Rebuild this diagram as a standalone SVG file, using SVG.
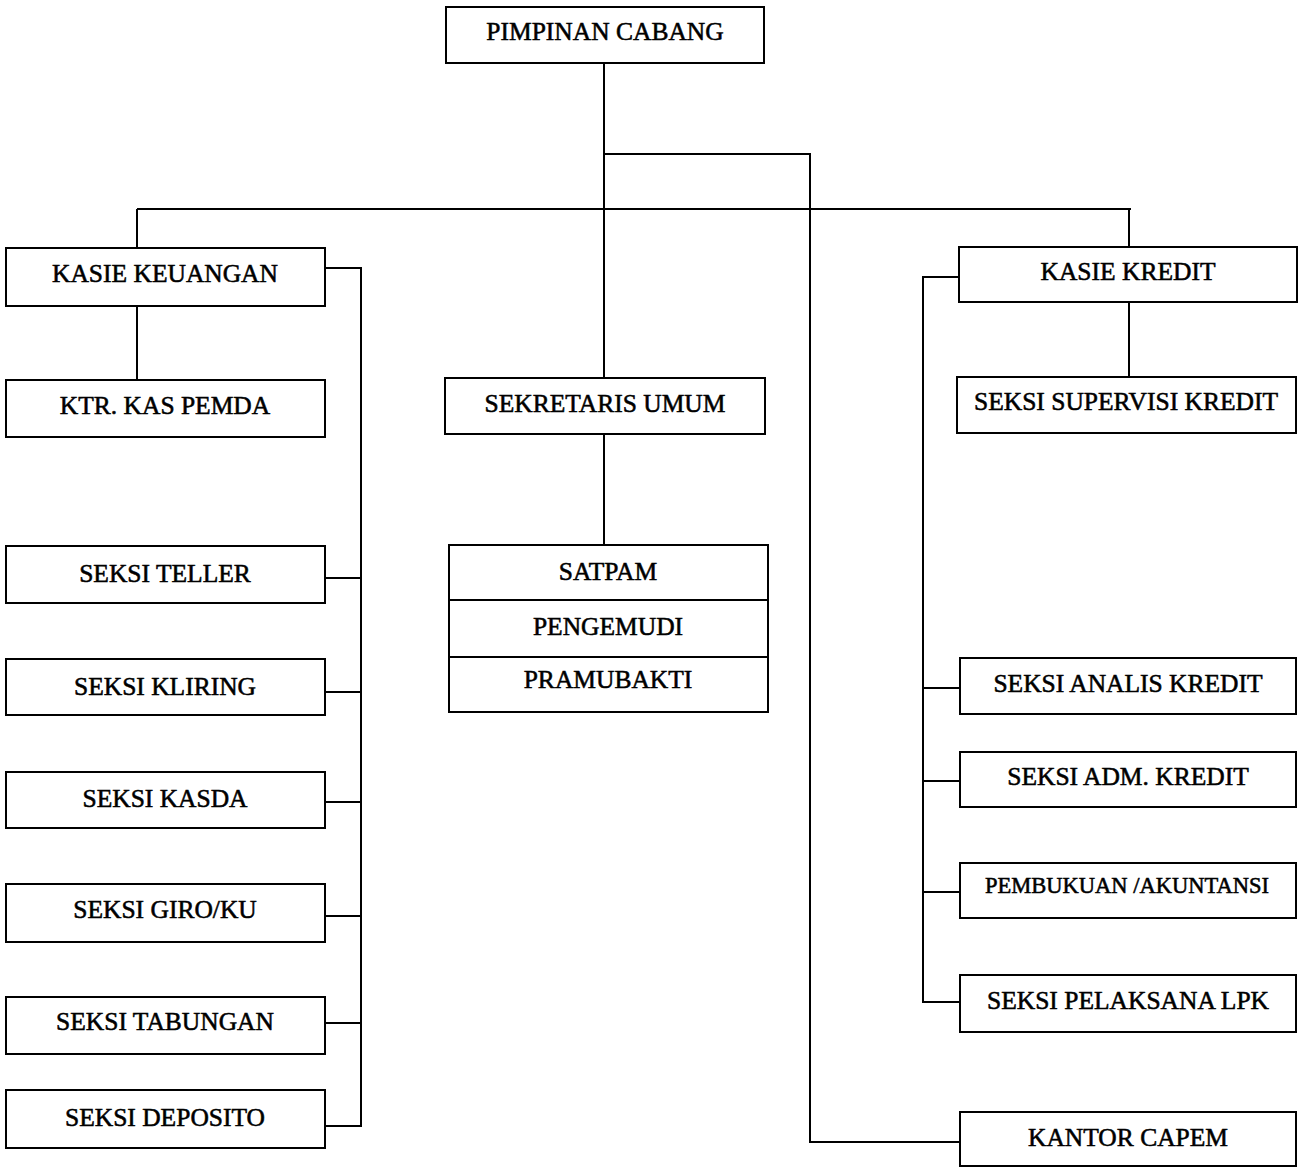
<svg xmlns="http://www.w3.org/2000/svg" width="1306" height="1167" viewBox="0 0 1306 1167">
<style>
.box{fill:#fff;stroke:#000;stroke-width:2}
.ln{fill:none;stroke:#000;stroke-width:2}
text{font-family:"Liberation Serif","Times New Roman",serif;font-size:25.5px;fill:#000;text-anchor:middle;stroke:#000;stroke-width:0.55}
.sm{font-size:22.5px}
</style>
<rect width="1306" height="1167" fill="#fff"/>
<g id="connectors">
<path class="ln" d="M604 63V545"/>
<path class="ln" d="M604 154H810V1142H960"/>
<path class="ln" d="M137 209H1131"/>
<path class="ln" d="M137 209V248M1129 209V247"/>
<path class="ln" d="M137 306V380"/>
<path class="ln" d="M1129 302V377"/>
<path class="ln" d="M325 268H361V1126H325"/>
<path class="ln" d="M325 578H361M325 692H361M325 802H361M325 916H361M325 1023H361"/>
<path class="ln" d="M959 277H923V1002H960"/>
<path class="ln" d="M923 688H960M923 781H960M923 892H960"/>
</g>
<g id="pimpinan-cabang"><rect class="box" x="446" y="7" width="318" height="56"/><text x="605" y="40">PIMPINAN CABANG</text></g>
<g id="kasie-keuangan"><rect class="box" x="6" y="248" width="319" height="58"/><text x="165" y="282">KASIE KEUANGAN</text></g>
<g id="ktr-kas-pemda"><rect class="box" x="6" y="380" width="319" height="57"/><text x="165" y="414">KTR. KAS PEMDA</text></g>
<g id="sekretaris-umum"><rect class="box" x="445" y="378" width="320" height="56"/><text x="605" y="412">SEKRETARIS UMUM</text></g>
<g id="satpam-group">
<rect class="box" x="449" y="545" width="319" height="167"/>
<path class="ln" d="M449 600H768M449 657H768"/>
<text x="608" y="580">SATPAM</text>
<text x="608" y="635">PENGEMUDI</text>
<text x="608" y="688">PRAMUBAKTI</text>
</g>
<g id="kasie-kredit"><rect class="box" x="959" y="247" width="338" height="55"/><text x="1128" y="280">KASIE KREDIT</text></g>
<g id="seksi-supervisi-kredit"><rect class="box" x="957" y="377" width="339" height="56"/><text x="1126" y="410">SEKSI SUPERVISI KREDIT</text></g>
<g id="seksi-teller"><rect class="box" x="6" y="546" width="319" height="57"/><text x="165" y="582">SEKSI TELLER</text></g>
<g id="seksi-kliring"><rect class="box" x="6" y="659" width="319" height="56"/><text x="165" y="695">SEKSI KLIRING</text></g>
<g id="seksi-kasda"><rect class="box" x="6" y="772" width="319" height="56"/><text x="165" y="807">SEKSI KASDA</text></g>
<g id="seksi-giro-ku"><rect class="box" x="6" y="884" width="319" height="58"/><text x="165" y="918">SEKSI GIRO/KU</text></g>
<g id="seksi-tabungan"><rect class="box" x="6" y="997" width="319" height="57"/><text x="165" y="1030">SEKSI TABUNGAN</text></g>
<g id="seksi-deposito"><rect class="box" x="6" y="1090" width="319" height="58"/><text x="165" y="1126">SEKSI DEPOSITO</text></g>
<g id="seksi-analis-kredit"><rect class="box" x="960" y="658" width="336" height="56"/><text x="1128" y="692">SEKSI ANALIS KREDIT</text></g>
<g id="seksi-adm-kredit"><rect class="box" x="960" y="752" width="336" height="55"/><text x="1128" y="785">SEKSI ADM. KREDIT</text></g>
<g id="pembukuan-akuntansi"><rect class="box" x="960" y="863" width="336" height="55"/><text class="sm" x="1127" y="893">PEMBUKUAN /AKUNTANSI</text></g>
<g id="seksi-pelaksana-lpk"><rect class="box" x="960" y="975" width="336" height="57"/><text x="1128" y="1009">SEKSI PELAKSANA LPK</text></g>
<g id="kantor-capem"><rect class="box" x="960" y="1112" width="336" height="54"/><text x="1128" y="1146">KANTOR CAPEM</text></g>
</svg>
